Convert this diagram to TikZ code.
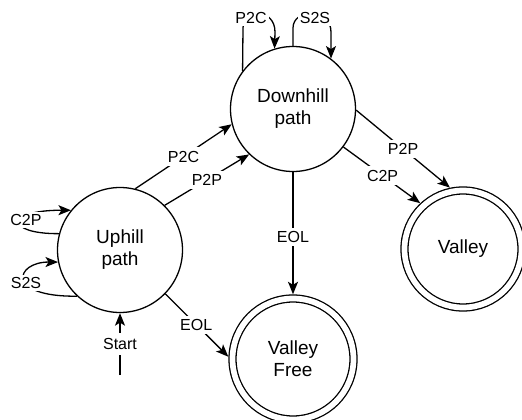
\documentclass[tikz,border=0pt]{standalone}
\usepackage{fontspec}
\setmainfont{Liberation Sans}
\usetikzlibrary{arrows.meta}
\begin{document}
\begin{tikzpicture}[x=1pt,y=-1pt,
  state/.style={circle, draw, line width=1.3pt, minimum size=125pt, inner sep=0pt,
    align=center, font=\fontsize{19}{22}\selectfont},
  final/.style={state, double, double distance=5.7pt, outer sep=4.2pt},
  lbl/.style={fill=white, inner sep=2pt, font=\fontsize{16}{19}\selectfont},
  elbl/.style={lbl, inner sep=3.5pt},
  arr/.style={line width=1.3pt, -{Stealth[length=12.5pt,width=10pt,inset=3pt]}}]
\useasboundingbox (0,0) rectangle (522,420);

% states
\node[state] (up) at (120,250) {Uphill\\path};
\node[state] (down) at (293,109) {Downhill\\path};
\node[final, minimum size=117pt] (valley) at (463,249) {Valley};
\node[final, minimum size=121pt] (vf) at (293,359) {Valley\\Free};
\coordinate (s0) at (120,375);

% transitions between states
\draw[arr] (s0) -- node[elbl, inner ysep=5pt] (lstart) {Start} (up.south);
\draw[arr] (up.76) -- node[elbl,pos=.5] (lupc) {P2C} (down.194);
\draw[arr] (up.45) -- node[elbl,pos=.5] (lupp) {P2P} (down.226);
\draw[arr] (up.-44) -- node[elbl,pos=.49] (lupe) {EOL} (vf.178);
\draw[arr] (down.-1) -- node[elbl,pos=.5] (ldp) {P2P} (valley.102);
\draw[arr] (down.-37) -- node[elbl,pos=.51] (ldc) {C2P} (valley.133);
\draw[arr] (down.south) -- node[elbl,pos=.53] (lde) {EOL} (vf.north);

% self loops on Downhill path
\draw[arr] (down.143) -- (243,28) .. controls (243,8) and (275,8) .. (275,32) -- (down.107);
\node[lbl] (ltc) at (251,18) {P2C};
\draw[arr] (down.90) -- (293,28) .. controls (293,8) and (331,8) .. (331,32) -- (down.53);
\node[lbl] (lts) at (315,18) {S2S};

% self loops on Uphill path
\draw[arr] (up.165) .. controls (5,234) and (5,210) .. (up.141);
\node[lbl] (llc) at (26,220) {C2P};
\draw[arr] (up.227) .. controls (5,297) and (15,262) .. (up.191);
\node[lbl] (lls) at (26,283) {S2S};
\end{tikzpicture}
\end{document}
